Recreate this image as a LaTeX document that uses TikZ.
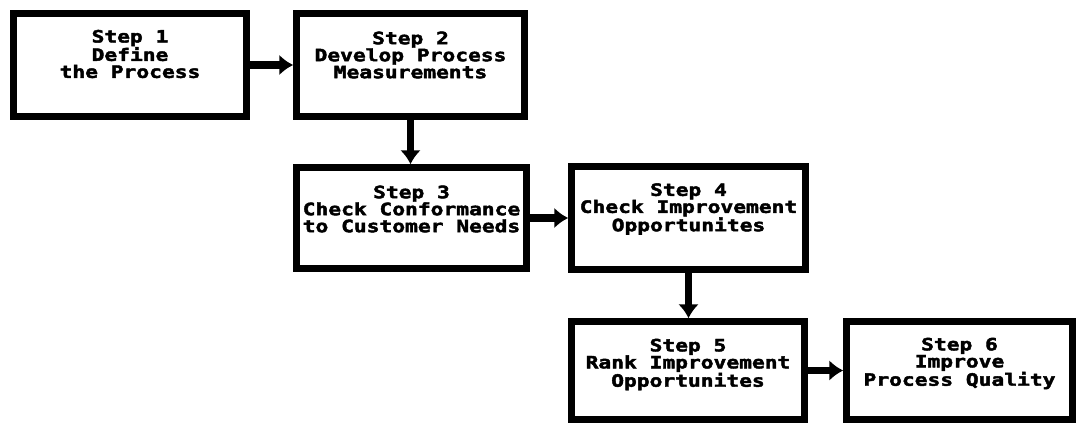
\documentclass[tikz,border=0pt]{standalone}
\usepackage{fontspec}
\usetikzlibrary{arrows.meta}
\newfontfamily\plotfont[FakeStretch=1.25,FakeBold=2.5]{DejaVu Sans Mono}
\begin{document}
\begin{tikzpicture}[x=1pt,y=-1pt,
  stepbox/.style={draw=black,line width=6.5pt,fill=white,inner sep=0pt},
  steptext/.style={align=center,inner sep=0pt,
    font=\plotfont\bfseries\fontsize{17pt}{17pt}\selectfont},
  flow/.style={line width=7.5pt,-{Latex[length=14pt,width=21pt]}}]
  % canvas
  \useasboundingbox (0,0) rectangle (1081,425);
  \fill[white] (0,0) rectangle (1081,425);

  % process steps
  \node[stepbox,minimum width=233pt,minimum height=103pt] (s1) at (130,65) {};
  \node[stepbox,minimum width=228pt,minimum height=103pt] (s2) at (410.5,65) {};
  \node[stepbox,minimum width=230pt,minimum height=101pt] (s3) at (411.5,218) {};
  \node[stepbox,minimum width=234pt,minimum height=103pt] (s4) at (688.5,218) {};
  \node[stepbox,minimum width=233pt,minimum height=98pt] (s5) at (688,370.5) {};
  \node[stepbox,minimum width=226pt,minimum height=98pt] (s6) at (959.5,370.5) {};

  % step captions
  \node[steptext] (t1) at ([yshift=11pt]s1.center) {Step 1\\Define\\the Process};
  \node[steptext] (t2) at ([yshift=10pt]s2.center) {Step 2\\Develop Process\\Measurements};
  \node[steptext] (t3) at ([yshift=9pt]s3.center) {Step 3\\Check Conformance\\to Customer Needs};
  \node[steptext] (t4) at ([yshift=9pt]s4.center) {Step 4\\Check Improvement\\Opportunites};
  \node[steptext] (t5) at ([yshift=6pt]s5.center) {Step 5\\Rank Improvement\\Opportunites};
  \node[steptext] (t6) at ([yshift=7pt]s6.center) {Step 6\\Improve\\Process Quality};

  % connectors
  \draw[flow] (s1.east) -- (s2.west);
  \draw[flow] (s2.south) -- (s2.south |- s3.north);
  \draw[flow] (s3.east) -- (s4.west);
  \draw[flow] (s4.south) -- (s4.south |- s5.north);
  \draw[flow] (s5.east) -- (s6.west);
\end{tikzpicture}
\end{document}
